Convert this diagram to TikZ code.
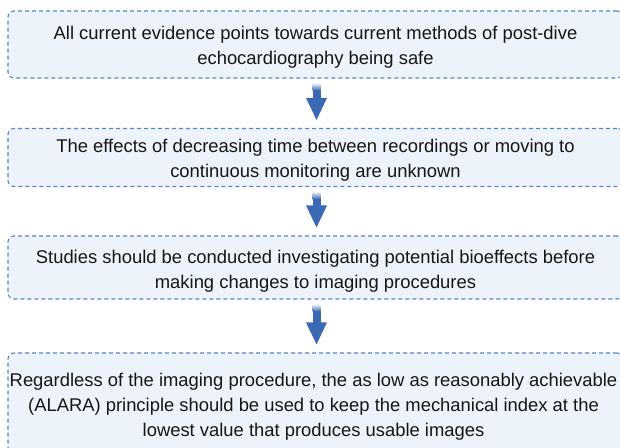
\documentclass[tikz,border=0pt]{standalone}
\usepackage{fontspec}
\setmainfont{Liberation Sans}
\usetikzlibrary{calc}
\definecolor{boxfill}{HTML}{EDF3FB}
\definecolor{boxline}{HTML}{5585C8}
\definecolor{arrowblue}{HTML}{3B69B3}
\definecolor{txt}{HTML}{161616}
\begin{document}
\begin{tikzpicture}[x=1pt,y=-1pt,
  stepbox/.style={draw=boxline, fill=boxfill, line width=1.1pt,
    dash pattern=on 4pt off 3pt, rounded corners=6pt,
    minimum width=615pt, inner sep=0pt},
  steptext/.style={align=center, text=txt,
    font=\fontsize{18.4}{25}\selectfont, inner sep=0pt}]
\useasboundingbox (0,0) rectangle (620,447);
\node[stepbox, minimum height=67pt] (b1) at (315.5,44.5) {};
\node[stepbox, minimum height=58pt] (b2) at (315.5,157.5) {};
\node[stepbox, minimum height=63pt] (b3) at (315.5,267.5) {};
\node[stepbox, minimum height=102pt] (b4) at (315.5,404) {};
\node[steptext] (t1) at ($(b1.center)+(0,3)$)
  {All current evidence points towards current methods of post-dive\\echocardiography being safe};
\node[steptext] (t2) at ($(b2.center)+(0,3)$)
  {The effects of decreasing time between recordings or moving to\\continuous monitoring are unknown};
\node[steptext] (t3) at ($(b3.center)+(0,3.5)$)
  {Studies should be conducted investigating potential bioeffects before\\making changes to imaging procedures};
\node[steptext] (t4) at ($(b4.center)+(-2,2.5)$)
  {Regardless of the imaging procedure, the as low as reasonably achievable\\(ALARA) principle should be used to keep the mechanical index at the\\lowest value that produces usable images};
\foreach \a/\b in {b1/b2,b2/b3,b3/b4}{
  \coordinate (s) at ($(\a.south)+(1,5)$);
  \coordinate (t) at ($(\b.north)+(1,-8)$);
  \coordinate (h) at ($(t)+(0,-22)$);
  \shade[top color=arrowblue!10, bottom color=arrowblue]
    ($(s)+(-4,0)$) rectangle ($(s)+(4,7)$);
  \fill[arrowblue] ($(s)+(-4,6.8)$) rectangle ($(h)+(4,0.5)$);
  \fill[arrowblue] ($(h)+(-10.5,0)$) -- ($(h)+(10.5,0)$) -- (t) -- cycle;
}
\end{tikzpicture}
\end{document}
